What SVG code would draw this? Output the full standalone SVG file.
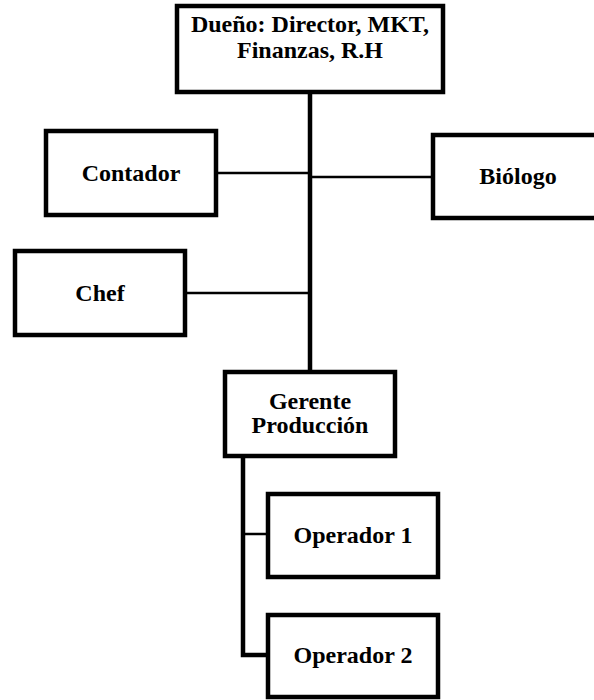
<svg xmlns="http://www.w3.org/2000/svg" width="594" height="700" viewBox="0 0 594 700">
<style>
.box{fill:#fff;stroke:#000;stroke-width:4.5}
text{font-family:'Liberation Serif','Times New Roman',Tinos,'Nimbus Roman','DejaVu Serif',serif;font-weight:700;font-size:24px;fill:#000;text-anchor:middle}
.thick{stroke:#000;stroke-width:4.5;fill:none}
.thin{stroke:#000;stroke-width:2.5;fill:none}
</style>
<rect width="594" height="700" fill="#fff"/>
<g id="connectors">
<line class="thick" x1="310" y1="92" x2="310" y2="372"/>
<line class="thin" x1="216" y1="173" x2="310" y2="173"/>
<line class="thin" x1="310" y1="177" x2="433" y2="177"/>
<line class="thin" x1="185" y1="293" x2="310" y2="293"/>
<polyline class="thick" points="243,456 243,655 268,655"/>
<line class="thin" x1="243" y1="534" x2="268" y2="534"/>
</g>
<g id="dueno">
<rect class="box" x="177" y="6" width="266" height="86"/>
<text font-family="Liberation Serif, serif" x="310" y="32">Dueño: Director, MKT,</text>
<text font-family="Liberation Serif, serif" x="310" y="58">Finanzas, R.H</text>
</g>
<g id="contador">
<rect class="box" x="46" y="131" width="170" height="84"/>
<text font-family="Liberation Serif, serif" x="131" y="181">Contador</text>
</g>
<g id="biologo">
<rect class="box" x="433" y="135" width="170" height="83"/>
<text font-family="Liberation Serif, serif" x="518" y="184">Biólogo</text>
</g>
<g id="chef">
<rect class="box" x="15" y="251" width="170" height="84"/>
<text font-family="Liberation Serif, serif" x="100" y="301">Chef</text>
</g>
<g id="gerente">
<rect class="box" x="225" y="372" width="170" height="84"/>
<text font-family="Liberation Serif, serif" x="310" y="409">Gerente</text>
<text font-family="Liberation Serif, serif" x="310" y="433">Producción</text>
</g>
<g id="operador1">
<rect class="box" x="268" y="494" width="170" height="83"/>
<text font-family="Liberation Serif, serif" x="353" y="543">Operador 1</text>
</g>
<g id="operador2">
<rect class="box" x="268" y="615" width="170" height="82"/>
<text font-family="Liberation Serif, serif" x="353" y="663">Operador 2</text>
</g>
</svg>
